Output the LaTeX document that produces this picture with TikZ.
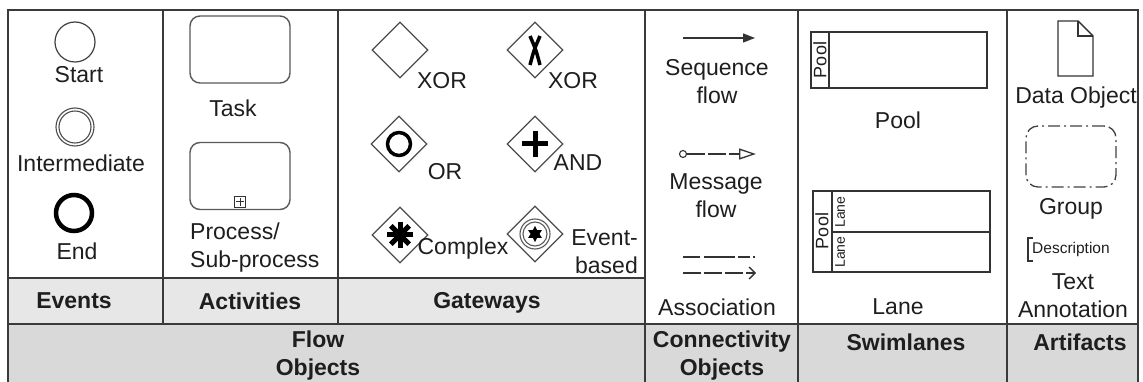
\documentclass[tikz,border=0pt]{standalone}
\usepackage{fontspec}
\setmainfont{Liberation Sans}
\usetikzlibrary{arrows.meta,shapes.geometric,calc}
\definecolor{rowA}{HTML}{E7E7E7}
\definecolor{rowB}{HTML}{D9D9D9}
\definecolor{ink}{HTML}{1E1E1E}
\definecolor{linec}{HTML}{3A3A3A}
\begin{document}
\begin{tikzpicture}[x=1pt,y=-1pt,
  lbl/.style={font=\fontsize{23}{28}\selectfont, align=center, inner sep=0pt, text=ink},
  hdr/.style={font=\fontsize{23}{28}\selectfont\bfseries, align=center, inner sep=0pt, text=ink},
  small/.style={inner sep=0pt, text=ink},
  gridline/.style={draw=linec, line width=2pt},
  gw/.style={shape=diamond, draw=black!70, line width=1.3pt, minimum width=56pt, minimum height=56pt, inner sep=0pt},
  boxshape/.style={draw=black!65, line width=1.4pt, rounded corners=10pt, minimum width=100pt, minimum height=67pt, inner sep=0pt},
  flowline/.style={draw=black!80, line width=1.3pt},
  dashline/.style={draw=black!80, line width=1.3pt, dash pattern=on 18pt off 3pt},
]
\useasboundingbox (0,0) rectangle (1143,382);
% ---------- table backgrounds ----------
\fill[rowA] (8,278) rectangle (645,324);
\fill[rowB] (8,324) rectangle (1138,382);
% ---------- table lines ----------
\draw[gridline] (8,382) -- (8,10) -- (1138,10) -- (1138,382);
\draw[gridline] (8,278) -- (645,278);
\draw[gridline] (8,324) -- (1138,324);
\draw[gridline] (163,10) -- (163,324);
\draw[gridline] (338,10) -- (338,324);
\draw[gridline] (645,10) -- (645,382);
\draw[gridline] (798,10) -- (798,382);
\draw[gridline] (1007,10) -- (1007,382);

% ---------- Events ----------
\node[circle, draw=black!75, line width=1.2pt, minimum size=40pt, inner sep=0pt] (start) at (75,42) {};
\node[lbl] (startT) at (79,75) {Start};
\node[circle, draw=black!70, line width=1.1pt, minimum size=38pt, inner sep=0pt] (inter) at (75,127) {};
\node[circle, draw=black!70, line width=1.1pt, minimum size=32pt, inner sep=0pt] (interIn) at (75,127) {};
\node[lbl] (interT) at (81,163) {Intermediate};
\node[circle, draw=black, line width=4.5pt, minimum size=36pt, inner sep=0pt] (endev) at (74,213) {};
\node[lbl] (endT) at (77,251) {End};

% ---------- Activities ----------
\node[boxshape] (task) at (240,49.5) {};
\node[lbl] (taskT) at (233,108) {Task};
\node[boxshape] (sub) at (240,176) {};
\node[draw=black!80, line width=1pt, minimum size=11pt, inner sep=0pt] (marker) at (240,202) {};
\draw[black!80, line width=1pt] (236,202) -- (244,202) (240,198) -- (240,206);
\node[lbl, align=left, anchor=west] (subT) at (190,247.5) {Process/\\Sub-process};

% ---------- Gateways ----------
\node[gw] (g1) at (400,50) {};
\node[lbl] (g1T) at (442,81) {XOR};
\node[gw] (g2) at (535,50) {};
\draw[black, line width=3.5pt] (530,36) .. controls (536,50) .. (540,65);
\draw[black, line width=3.5pt] (540,36) .. controls (534,50) .. (530,65);
\node[lbl] (g2T) at (573,81) {XOR};
\node[gw] (g3) at (399,144) {};
\node[circle, draw=black, line width=3.5pt, minimum size=23pt, inner sep=0pt] (orC) at (399,144) {};
\node[lbl] (g3T) at (445,172) {OR};
\node[gw] (g4) at (535,144) {};
\draw[black, line width=5pt] (522,144) -- (548,144) (535,131) -- (535,157);
\node[lbl] (g4T) at (578,163) {AND};
\node[gw] (g5) at (400,235) {};
\foreach \a in {0,45,90,135}
  \draw[black, line width=5pt] ($(400,235)+(\a:13)$) -- ($(400,235)+(\a+180:13)$);
\node[lbl] (g5T) at (463,249) {Complex};
\node[gw] (g6) at (535,234) {};
\node[circle, draw=black!65, line width=1.1pt, minimum size=30pt, inner sep=0pt] (evO) at (535,234) {};
\node[circle, draw=black!65, line width=1.1pt, minimum size=24pt, inner sep=0pt] (evI) at (535,234) {};
\node[star, star points=6, star point ratio=1.8, fill=black, minimum size=16pt, inner sep=0pt] (evS) at (535,234) {};
\node[lbl, align=right, anchor=east] (g6T) at (638,252) {Event-\\based};

% ---------- Connectivity ----------
\coordinate (seqA) at (683,38);
\coordinate (seqB) at (755,38);
\draw[flowline, -{Triangle[length=12pt,width=9pt]}] (seqA) -- (seqB);
\node[lbl] (seqT) at (717,82) {Sequence\\flow};
\node[circle, draw=black!80, line width=1.1pt, minimum size=7pt, inner sep=0pt] (msgC) at (683,154) {};
\coordinate (msgB) at (756,154);
\draw[dashline, -{Triangle[open,length=17pt,width=11pt]}] (msgC) -- (msgB);
\node[lbl] (msgT) at (716,196) {Message\\flow};
\coordinate (asA) at (683,257);
\coordinate (asB) at (755,257);
\draw[draw=black!80, line width=1.3pt, dash pattern=on 17pt off 4pt on 31pt off 3pt on 12pt off 3pt] (asA) -- (asB);
\coordinate (asC) at (683,273);
\coordinate (asD) at (756,273);
\draw[dashline, -{Straight Barb[length=6pt,width=12pt]}] (asC) -- (asD);
\node[lbl] (asT) at (717,307) {Association};

% ---------- Swimlanes ----------
\node[draw=black!80, line width=1.4pt, minimum width=176pt, minimum height=56pt, inner sep=0pt] (pool) at (899,60) {};
\draw[black!80, line width=1.4pt] (829,32) -- (829,88);
\node[small, rotate=90, font=\fontsize{18}{20}\selectfont] (poolV) at (820,60) {Pool};
\node[lbl] (poolT) at (898,120) {Pool};
\node[draw=black!80, line width=1.4pt, minimum width=177pt, minimum height=81pt, inner sep=0pt] (lanebox) at (901.5,231.5) {};
\draw[black!80, line width=1.4pt] (832,191) -- (832,272);
\draw[black!80, line width=1.4pt] (832,232) -- (990,232);
\node[small, rotate=90, font=\fontsize{18}{20}\selectfont] (poolV2) at (822,231) {Pool};
\node[small, rotate=90, font=\fontsize{14}{16}\selectfont] (laneV1) at (840,212) {Lane};
\node[small, rotate=90, font=\fontsize{14}{16}\selectfont] (laneV2) at (840,252) {Lane};
\node[lbl] (laneT) at (898,307) {Lane};

% ---------- Artifacts ----------
\draw[black!80, line width=1.4pt] (1058,21) -- (1078,21) -- (1093,36) -- (1093,76) -- (1058,76) -- cycle;
\draw[black!80, line width=1.2pt] (1078,21) -- (1078,36) -- (1093,36);
\node[lbl] (dataT) at (1076,98) {Data Object};
\node[draw=black!75, line width=1.3pt, rounded corners=12pt, dash pattern=on 12pt off 4pt on 2pt off 4pt, minimum width=90pt, minimum height=61pt, inner sep=0pt] (group) at (1071,156.5) {};
\node[lbl] (groupT) at (1071,209) {Group};
\draw[black!80, line width=1.2pt] (1033,238) -- (1028,238) -- (1028,261) -- (1033,261);
\node[small, anchor=west, font=\fontsize{15.5}{17}\selectfont] (descT) at (1032,249) {Description};
\node[lbl] (annT) at (1073,296) {Text\\Annotation};

% ---------- headers ----------
\node[hdr] (hEv) at (74,301) {Events};
\node[hdr] (hAc) at (250,301) {Activities};
\node[hdr] (hGw) at (487,303) {Gateways};
\node[hdr] (hFo) at (318,356) {Flow\\Objects};
\node[hdr] (hCo) at (722,356) {Connectivity\\Objects};
\node[hdr] (hSw) at (906,342) {Swimlanes};
\node[hdr] (hAr) at (1080,342) {Artifacts};
\end{tikzpicture}
\end{document}
